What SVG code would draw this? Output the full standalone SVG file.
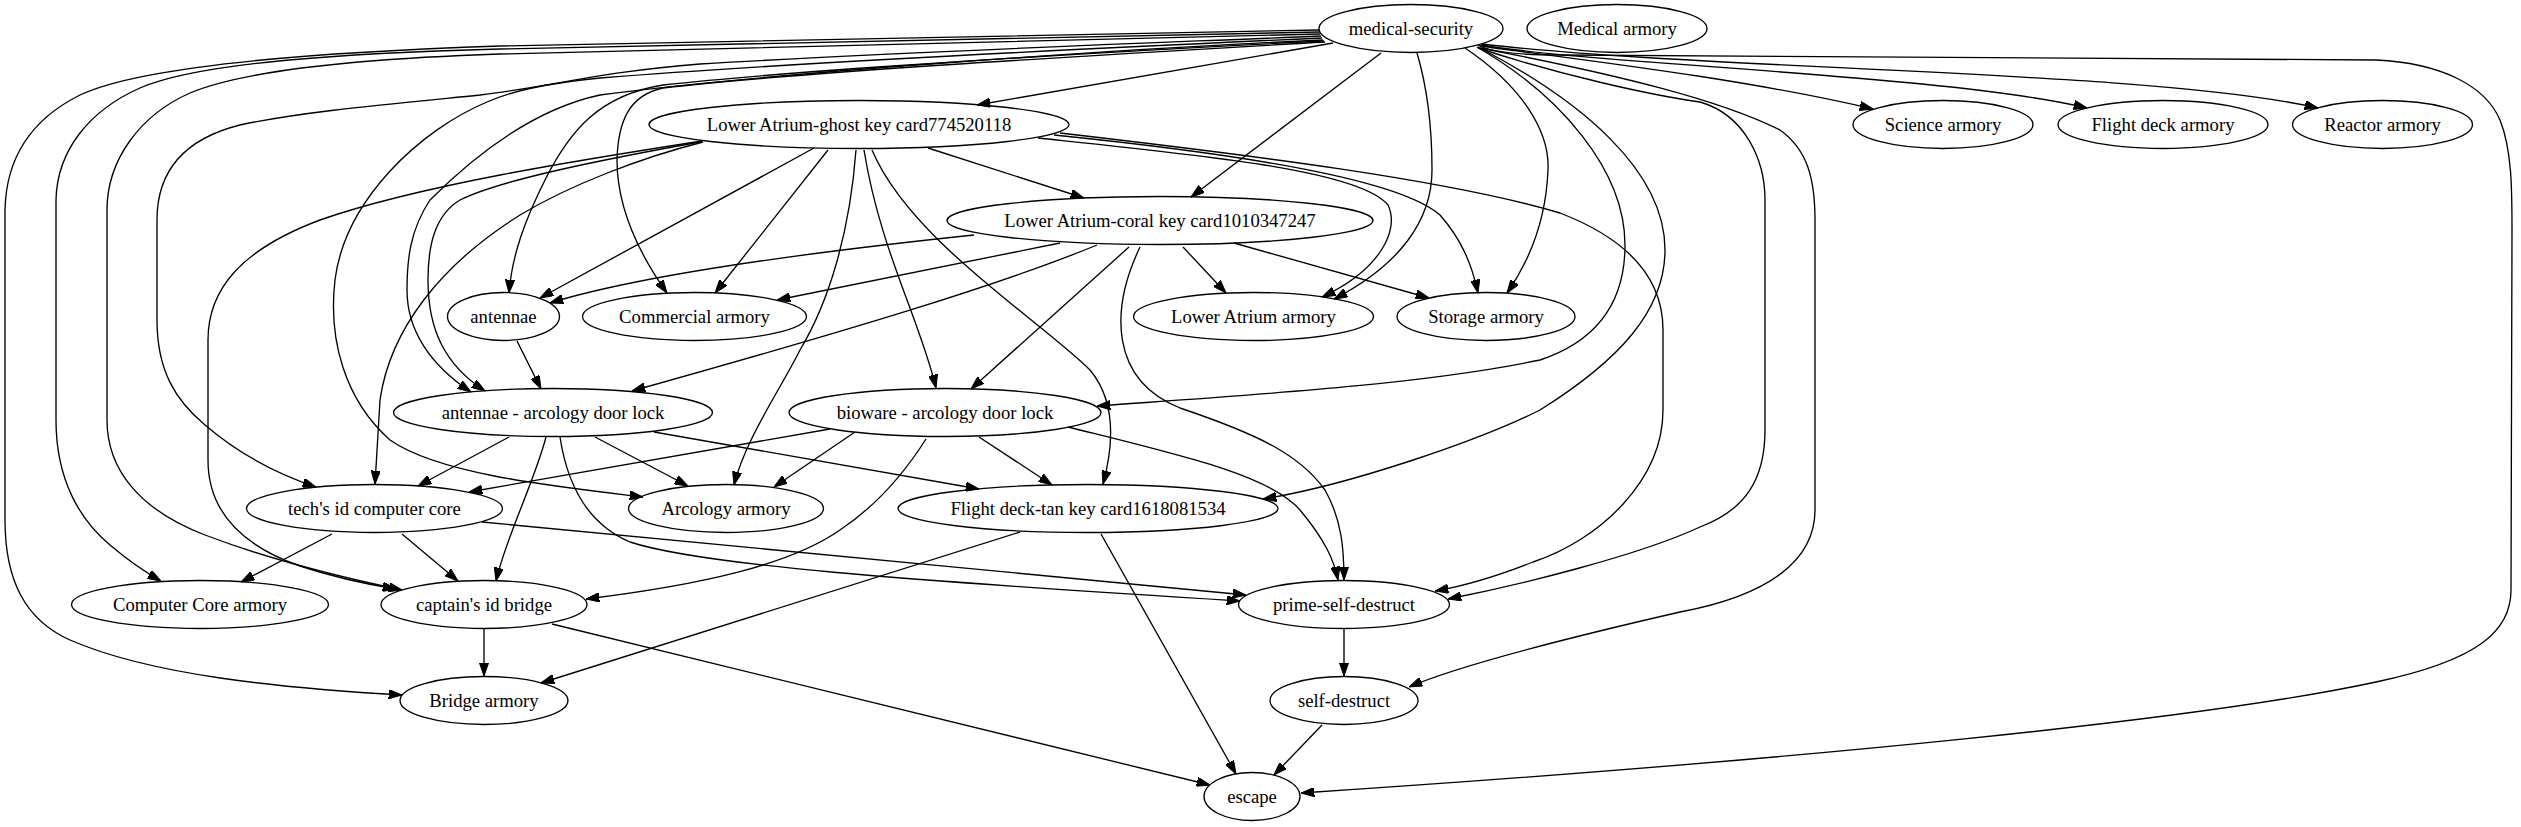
<svg xmlns="http://www.w3.org/2000/svg" width="2521" height="827" viewBox="0 0 2521 827">
<style>
.n ellipse{fill:none;stroke:#000;stroke-width:1.33}
.n text{font-family:"Liberation Serif","Times New Roman",serif;font-size:18.67px;text-anchor:middle;fill:#000}
.e path{fill:none;stroke:#000;stroke-width:1.33;marker-end:url(#ah)}
</style>
<defs>
<marker id="ah" viewBox="0 0 13.33 9.33" refX="13.33" refY="4.67" markerWidth="13.33" markerHeight="9.33" markerUnits="userSpaceOnUse" orient="auto"><path d="M0,0 L13.33,4.67 L0,9.33 Z" fill="#000" stroke="#000" stroke-width="1"/></marker>
</defs>
<rect width="2521" height="827" fill="#fff"/>
<g id="edges" class="e">
<path d="M1333,43 L977,105"/>
<path d="M1381,53 L1191,197"/>
<path d="M1417,53 C1428,90 1432,130 1432,170 C1432,220 1400,265 1334,299"/>
<path d="M1465,48 C1520,85 1550,130 1548,170 C1546,220 1530,260 1507,293"/>
<path d="M1480,46 C1600,62 1750,80 1873,109"/>
<path d="M1481,45 C1600,65 1950,75 2087,108"/>
<path d="M1482,44 C1700,70 2150,70 2318,108"/>
<path d="M1478,45 C1490,52 1520,55 1560,55 L2376,60 C2440,63 2485,85 2500,120 C2512,150 2512,190 2512,230 L2511,590 C2511,630 2480,660 2376,682 C2200,720 1800,760 1301,793"/>
<path d="M1478,48 C1560,75 1650,95 1700,102 C1745,115 1765,160 1765,200 L1765,430 C1765,480 1745,510 1700,527 C1640,555 1520,585 1448,599"/>
<path d="M1480,48 C1620,75 1720,100 1780,130 C1808,150 1815,180 1815,220 L1815,510 C1815,560 1770,595 1680,612 C1580,635 1460,665 1409,687"/>
<path d="M1477,47 C1560,95 1625,170 1625,245 C1625,300 1600,340 1540,360 C1420,385 1250,395 1097,406"/>
<path d="M1478,47 C1580,100 1665,170 1665,250 C1665,310 1620,360 1540,410 C1480,440 1350,485 1263,499"/>
<path d="M1319,30 C1000,36 700,40 500,46 C350,51 150,62 80,95 C30,120 6,160 5,210 L5,520 C5,580 25,620 70,640 C150,675 280,688 402,695"/>
<path d="M1320,32 C1000,38 700,44 500,49 C350,53 200,62 140,88 C90,110 57,150 56,200 L56,420 C56,480 80,520 110,545 C130,562 145,572 161,581"/>
<path d="M1320,34 C1000,42 700,48 500,54 C380,58 250,68 190,93 C140,115 107,160 107,210 L107,420 C107,470 140,510 205,535 C260,556 330,575 402,590"/>
<path d="M1321,36 C1100,45 900,52 700,64 C600,72 560,85 480,95 C380,105 300,112 240,125 C180,140 157,175 157,220 L157,320 C157,370 175,400 205,425 C240,455 280,475 316,487"/>
<path d="M1322,38 C1100,48 800,62 600,78 C540,84 510,92 487,102 C420,130 345,200 335,280 C328,340 345,400 390,440 C440,475 560,487 643,497"/>
<path d="M1323,40 C1100,50 750,75 600,95 C530,110 470,160 430,200 C410,230 407,260 407,290 C407,330 430,365 471,392"/>
<path d="M1324,41 C1100,52 800,70 663,85 C600,95 570,130 545,180 C525,220 512,255 509,293"/>
<path d="M1325,42 C1100,55 800,72 663,88 C630,95 618,120 617,160 C617,210 640,255 667,293"/>
<path d="M814,148 L540,298"/>
<path d="M828,150 L715,293"/>
<path d="M928,148 L1084,198"/>
<path d="M864,150 C880,250 920,320 936,388"/>
<path d="M872,150 C910,240 1040,320 1090,370 C1115,400 1115,440 1103,484"/>
<path d="M856,150 C850,230 830,300 800,350 C780,390 745,440 734,485"/>
<path d="M702,141 C580,160 420,185 320,220 C240,250 208,290 208,340 L208,460 C208,510 240,545 300,566 C330,576 360,583 396,589"/>
<path d="M700,142 C600,160 500,180 460,200 C435,215 428,245 428,280 C428,330 445,365 485,391"/>
<path d="M703,142 C640,158 570,185 520,215 C440,265 390,330 380,400 L375,484"/>
<path d="M1038,138 C1200,155 1360,170 1388,205 C1400,230 1380,270 1322,297"/>
<path d="M1054,135 C1250,155 1400,180 1440,215 C1462,240 1472,265 1478,293"/>
<path d="M1060,133 C1250,155 1450,180 1560,213 C1630,240 1663,280 1663,330 L1663,410 C1663,480 1600,540 1533,562 C1500,575 1470,585 1435,591"/>
<path d="M974,235 C850,248 650,272 550,303"/>
<path d="M1060,243 L777,300"/>
<path d="M1097,245 C1000,285 850,330 632,391"/>
<path d="M1129,247 L971,389"/>
<path d="M1183,247 L1226,293"/>
<path d="M1234,243 L1429,298"/>
<path d="M1140,247 C1110,310 1110,380 1180,408 C1260,435 1300,455 1325,490 C1342,520 1344,550 1344,580"/>
<path d="M517,341 L541,389"/>
<path d="M509,437 L418,486"/>
<path d="M595,437 L688,486"/>
<path d="M546,437 C535,480 505,540 496,581"/>
<path d="M654,432 L979,489"/>
<path d="M560,437 C568,490 590,525 630,542 C700,565 900,580 1240,601"/>
<path d="M830,429 L469,492"/>
<path d="M855,432 L774,487"/>
<path d="M979,437 L1052,485"/>
<path d="M1068,427 C1180,455 1270,475 1300,510 C1325,540 1334,560 1338,580"/>
<path d="M926,439 C900,480 870,510 840,530 C790,565 700,585 586,599"/>
<path d="M332,534 L241,582"/>
<path d="M402,534 L458,581"/>
<path d="M482,522 C700,545 1000,570 1246,595"/>
<path d="M1020,532 L541,683"/>
<path d="M1101,534 L1236,774"/>
<path d="M484,629 L484,676"/>
<path d="M552,624 L1210,785"/>
<path d="M1344,629 L1344,676"/>
<path d="M1322,725 L1274,775"/>
</g>
<g id="n_med" class="n"><ellipse cx="1411" cy="28.5" rx="92" ry="24"/><text x="1411" y="34.5">medical-security</text></g>
<g id="n_medarm" class="n"><ellipse cx="1617" cy="28.5" rx="90" ry="24"/><text x="1617" y="34.5">Medical armory</text></g>
<g id="n_ghost" class="n"><ellipse cx="859" cy="124.5" rx="210" ry="24"/><text x="859" y="130.5">Lower Atrium-ghost key card774520118</text></g>
<g id="n_sci" class="n"><ellipse cx="1943" cy="124.5" rx="90" ry="24"/><text x="1943" y="130.5">Science armory</text></g>
<g id="n_fda" class="n"><ellipse cx="2163" cy="124.5" rx="105" ry="24"/><text x="2163" y="130.5">Flight deck armory</text></g>
<g id="n_rea" class="n"><ellipse cx="2382.5" cy="124.5" rx="90" ry="24"/><text x="2382.5" y="130.5">Reactor armory</text></g>
<g id="n_coral" class="n"><ellipse cx="1160" cy="220.5" rx="213" ry="24"/><text x="1160" y="226.5">Lower Atrium-coral key card1010347247</text></g>
<g id="n_ant" class="n"><ellipse cx="503.5" cy="316.5" rx="56" ry="24"/><text x="503.5" y="322.5">antennae</text></g>
<g id="n_comm" class="n"><ellipse cx="694.5" cy="316.5" rx="112" ry="24"/><text x="694.5" y="322.5">Commercial armory</text></g>
<g id="n_laarm" class="n"><ellipse cx="1253.5" cy="316.5" rx="120" ry="24"/><text x="1253.5" y="322.5">Lower Atrium armory</text></g>
<g id="n_stor" class="n"><ellipse cx="1486" cy="316.5" rx="89" ry="24"/><text x="1486" y="322.5">Storage armory</text></g>
<g id="n_aadl" class="n"><ellipse cx="553" cy="412.5" rx="159.5" ry="24"/><text x="553" y="418.5">antennae - arcology door lock</text></g>
<g id="n_badl" class="n"><ellipse cx="945" cy="412.5" rx="156" ry="24"/><text x="945" y="418.5">bioware - arcology door lock</text></g>
<g id="n_tech" class="n"><ellipse cx="374.5" cy="508.5" rx="128" ry="24"/><text x="374.5" y="514.5">tech's id computer core</text></g>
<g id="n_arc" class="n"><ellipse cx="726" cy="508.5" rx="97.5" ry="24"/><text x="726" y="514.5">Arcology armory</text></g>
<g id="n_fdtan" class="n"><ellipse cx="1088" cy="508.5" rx="190" ry="24"/><text x="1088" y="514.5">Flight deck-tan key card1618081534</text></g>
<g id="n_cca" class="n"><ellipse cx="200" cy="604.5" rx="128.5" ry="24"/><text x="200" y="610.5">Computer Core armory</text></g>
<g id="n_capt" class="n"><ellipse cx="484" cy="604.5" rx="103" ry="24"/><text x="484" y="610.5">captain's id bridge</text></g>
<g id="n_prime" class="n"><ellipse cx="1344" cy="604.5" rx="105.5" ry="24"/><text x="1344" y="610.5">prime-self-destruct</text></g>
<g id="n_bridge" class="n"><ellipse cx="484" cy="700.5" rx="84" ry="24"/><text x="484" y="706.5">Bridge armory</text></g>
<g id="n_sd" class="n"><ellipse cx="1344" cy="700.5" rx="74" ry="24"/><text x="1344" y="706.5">self-destruct</text></g>
<g id="n_esc" class="n"><ellipse cx="1252" cy="796.5" rx="48" ry="24"/><text x="1252" y="802.5">escape</text></g>
</svg>
